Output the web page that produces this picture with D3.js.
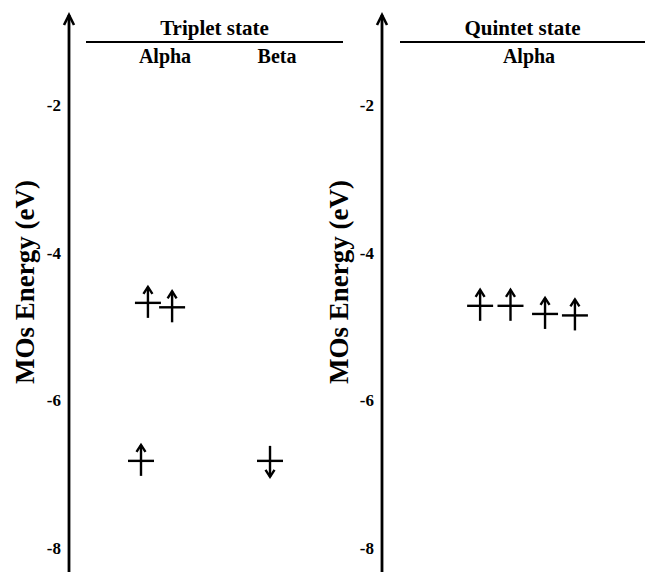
<!DOCTYPE html>
<html>
<head>
<meta charset="utf-8">
<script src="https://cdn.jsdelivr.net/npm/d3@7"></script>
<style>
  body { margin: 0; background: #fff; }
  svg text { font-family: "Liberation Serif", "Times New Roman", serif; font-weight: bold; }
</style>
</head>
<body>
<div id="chart"></div>
<script>
// energy ticks (eV)
const tickValues = [-2, -4, -6, -8];

// orbital levels: energy (eV), slot position inside its panel, spin
const tripletEnergy = [-4.68, -4.74, -6.82, -6.82];
const tripletSlot = [2.41, 3.35, 2.14, 7.16];
const tripletSpin = ["up", "up", "up", "down"];

const quintetEnergy = [-4.72, -4.72, -4.83, -4.85];
const quintetSlot = [3.27, 4.51, 5.92, 7.14];
const quintetSpin = ["up", "up", "up", "up"];

const panelTitles = ["Triplet state", "Quintet state"];
const tripletColumns = ["Alpha", "Beta"];
const quintetColumns = ["Alpha"];
const axisTitle = "MOs Energy (eV)";

const width = 649;
const height = 572;

const svg = d3.select("#chart")
    .append("svg")
    .attr("width", width)
    .attr("height", height);

const y = d3.scaleLinear()
    .domain([-2, -8])
    .range([105, 548]);

const panels = [
    {title: panelTitles[0], axisX: 69, titleX: 25, left: 86, right: 343,
     cols: tripletColumns, colX: [165, 277],
     energy: tripletEnergy, slot: tripletSlot, spin: tripletSpin},
    {title: panelTitles[1], axisX: 382, titleX: 339, left: 400, right: 645,
     cols: quintetColumns, colX: [529],
     energy: quintetEnergy, slot: quintetSlot, spin: quintetSpin}
];

panels.forEach(p => {
    const g = svg.append("g");

    // vertical axis with open arrow head
    g.append("line")
        .attr("x1", p.axisX).attr("x2", p.axisX)
        .attr("y1", 15).attr("y2", height)
        .attr("stroke", "#000").attr("stroke-width", 2.8);
    g.append("path")
        .attr("d", `M${p.axisX - 5},${25} L${p.axisX},${15} L${p.axisX + 5},${25}`)
        .attr("fill", "none").attr("stroke", "#000").attr("stroke-width", 2.6);

    // tick labels
    const ax = g.append("g")
        .attr("transform", `translate(${p.axisX},0)`)
        .call(d3.axisLeft(y).tickValues(tickValues).tickSize(0).tickPadding(8)
            .tickFormat(d => d.toString()));
    ax.select(".domain").remove();
    ax.selectAll("text")
        .attr("font-size", 17)
        .attr("font-family", "Liberation Serif")
        .attr("font-weight", "bold")
        .attr("fill", "#000");

    // axis title
    g.append("text")
        .attr("transform", `translate(${p.titleX},282) rotate(-90)`)
        .attr("text-anchor", "middle")
        .attr("dy", "0.35em")
        .attr("font-size", 27)
        .text(axisTitle);

    // panel header
    g.append("text")
        .attr("x", (p.left + p.right) / 2)
        .attr("y", 35)
        .attr("text-anchor", "middle")
        .attr("font-size", 21)
        .text(p.title);
    g.append("line")
        .attr("x1", p.left).attr("x2", p.right)
        .attr("y1", 42).attr("y2", 42)
        .attr("stroke", "#000").attr("stroke-width", 2);
    p.cols.forEach((c, i) => {
        g.append("text")
            .attr("x", p.colX[i])
            .attr("y", 63)
            .attr("text-anchor", "middle")
            .attr("font-size", 20)
            .text(c);
    });

    // orbital levels
    const x = d3.scaleLinear().domain([0, 10]).range([p.left, p.right]);
    const levels = p.energy.map((e, i) => ({e: e, s: p.slot[i], spin: p.spin[i]}));
    const lv = g.selectAll(".level")
        .data(levels)
        .join("g")
        .attr("class", "level")
        .attr("transform", d => `translate(${x(d.s)},${y(d.e)})`);
    lv.append("line")
        .attr("x1", -13).attr("x2", 13)
        .attr("y1", 0).attr("y2", 0)
        .attr("stroke", "#000").attr("stroke-width", 2.4);
    lv.append("line")
        .attr("x1", 0).attr("x2", 0)
        .attr("y1", d => d.spin === "up" ? 15 : -15)
        .attr("y2", d => d.spin === "up" ? -16 : 16)
        .attr("stroke", "#000").attr("stroke-width", 2.4);
    lv.append("path")
        .attr("d", d => d.spin === "up" ? "M-4.5,-9 L0,-16 L4.5,-9" : "M-4.5,9 L0,16 L4.5,9")
        .attr("fill", "none")
        .attr("stroke", "#000").attr("stroke-width", 2.4);
});
</script>
</body>
</html>
